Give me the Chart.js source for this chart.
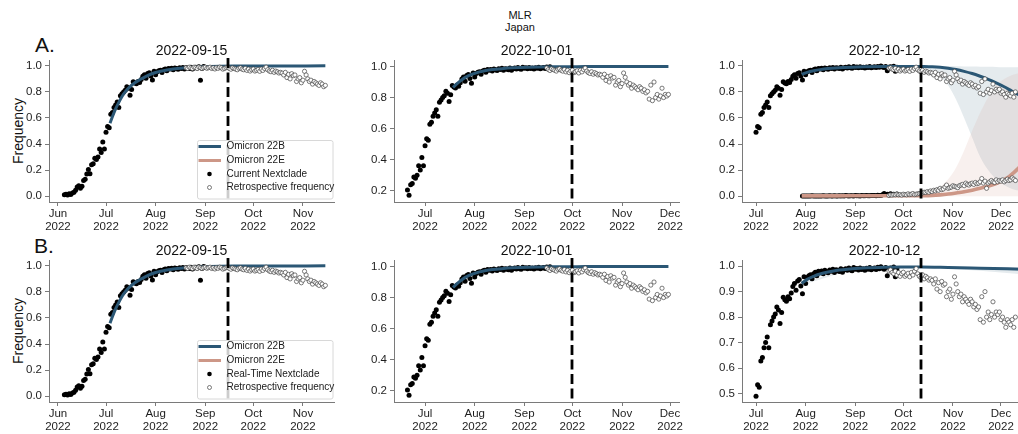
<!DOCTYPE html>
<html>
<head>
<meta charset="utf-8">
<script src="https://cdn.jsdelivr.net/npm/chart.js@4/dist/chart.umd.min.js"></script>
<style>
  html, body { margin: 0; padding: 0; background: #fff; }
  body { width: 1018px; height: 434px; overflow: hidden; position: relative;
         font-family: "Liberation Sans", Arial, sans-serif; color: #111; }
  canvas { position: absolute; }
  .lbl { position: absolute; white-space: nowrap; }
</style>
</head>
<body>
<div class="lbl" style="left:0;width:1040px;top:9px;text-align:center;font-size:11px;line-height:12px">MLR<br>Japan</div>
<div class="lbl" style="left:35px;top:34px;font-size:21px;line-height:21px">A.</div>
<div class="lbl" style="left:34px;top:235px;font-size:21px;line-height:21px">B.</div>
<div class="lbl" style="left:18px;top:131px;font-size:14px;line-height:14px;transform:translate(-50%,-50%) rotate(-90deg)">Frequency</div>
<div class="lbl" style="left:18px;top:331px;font-size:14px;line-height:14px;transform:translate(-50%,-50%) rotate(-90deg)">Frequency</div>
<script>
// Days are counted from 2022-06-01 (day 0).
const monthTicks = [0, 30, 61, 92, 122, 153, 183];
const monthNames = ['Jun', 'Jul', 'Aug', 'Sep', 'Oct', 'Nov', 'Dec'];

// Daily Omicron 22B frequency as reported in real time (Nextclade), days 4..118
const realtime22BStart = 4;
const realtime22B = [
  0.010, 0.015, 0.008, 0.018, 0.012, 0.025, 0.030, 0.045, 0.070, 0.080,
  0.060, 0.075, 0.120, 0.130, 0.170, 0.205, 0.172, 0.240, 0.248, 0.290,
  0.282, 0.300, 0.362, 0.335, 0.415, 0.362, 0.490, 0.535, 0.525, 0.628,
  0.642, 0.680, 0.700, 0.722, 0.680, 0.770, 0.785, 0.800, 0.812, 0.840,
  0.828, 0.775, 0.818, 0.878, 0.868, 0.862, 0.880, 0.872, 0.895, 0.920,
  0.932, 0.905, 0.942, 0.948, 0.922, 0.892, 0.958, 0.932, 0.955, 0.962,
  0.966, 0.950, 0.970, 0.976, 0.962, 0.980, 0.975, 0.981, 0.970, 0.984,
  0.979, 0.974, 0.985, 0.980, 0.988, 0.975, 0.986, 0.984, 0.979, 0.990,
  0.976, 0.986, 0.990, 0.984, 0.993, 0.985, 0.982, 0.995, 0.988, 0.991,
  0.985, 0.993, 0.987, 0.990, 0.984, 0.992, 0.988, 0.995, 0.986, 0.990,
  0.993, 0.987, 0.996, 0.990, 0.998, 0.992, 0.988, 0.995, 0.962, 0.990,
  0.993, 0.985, 0.997, 0.958, 0.990
];
// Values that differed in the 2022-09-15 snapshot: [day, frequency]
const sep15Revisions = [[89, 0.890]];

// Retrospective Omicron 22B frequency, days 80..192
const retro22BStart = 80;
const retro22B = [
  0.985, 0.980, 0.990, 0.984, 0.979, 0.990, 0.986, 0.980, 0.991, 0.985,
  0.980, 0.986, 0.990, 0.981, 0.986, 0.990, 0.980, 0.985, 0.976, 0.986,
  0.981, 0.990, 0.985, 0.975, 0.980, 0.986, 0.990, 0.980, 0.974, 0.985,
  0.980, 0.975, 0.970, 0.981, 0.985, 0.975, 0.970, 0.980, 0.965, 0.975,
  0.960, 0.970, 0.976, 0.960, 0.966, 0.972, 0.958, 0.975, 0.965, 0.980,
  0.990, 0.970, 0.960, 0.955, 0.966, 0.950, 0.960, 0.954, 0.945, 0.950,
  0.944, 0.930, 0.950, 0.910, 0.935, 0.900, 0.940, 0.925, 0.930, 0.880,
  0.900, 0.910, 0.870, 0.890, 0.958, 0.930, 0.900, 0.880, 0.890, 0.860,
  0.880, 0.870, 0.860, 0.850, 0.870, 0.860, 0.840, 0.850, 0.830, 0.840,
  0.790, 0.880, 0.780, 0.900, 0.800, 0.820, 0.790, 0.810, 0.860, 0.800,
  0.820, 0.810, 0.820, 0.790, 0.800, 0.780, 0.760, 0.790, 0.780, 0.770,
  0.790, 0.760, 0.800
];

// Omicron 22E, real time (days 59..118) and retrospective (days 113..192)
const realtime22EStart = 59;
const realtime22E = [
  0.001, 0.002, 0.001, 0.002, 0.001, 0.002, 0.003, 0.001, 0.002, 0.002,
  0.001, 0.002, 0.002, 0.003, 0.001, 0.002, 0.002, 0.003, 0.002, 0.002,
  0.003, 0.002, 0.002, 0.003, 0.002, 0.003, 0.002, 0.004, 0.003, 0.002,
  0.003, 0.003, 0.002, 0.004, 0.003, 0.003, 0.002, 0.004, 0.003, 0.003,
  0.004, 0.003, 0.003, 0.005, 0.004, 0.004, 0.003, 0.006, 0.005, 0.004,
  0.011, 0.020, 0.012, 0.015, 0.010, 0.018, 0.012, 0.015, 0.013, 0.016
];
const retro22EStart = 113;
const retro22E = [
  0.005, 0.010, 0.008, 0.012, 0.010, 0.015, 0.010, 0.012, 0.008, 0.015,
  0.012, 0.010, 0.018, 0.012, 0.015, 0.020, 0.012, 0.015, 0.018, 0.020,
  0.022, 0.025, 0.030, 0.028, 0.035, 0.030, 0.040, 0.035, 0.045, 0.040,
  0.050, 0.045, 0.060, 0.050, 0.055, 0.070, 0.085, 0.060, 0.065, 0.070,
  0.080, 0.075, 0.070, 0.065, 0.080, 0.085, 0.090, 0.080, 0.100, 0.090,
  0.085, 0.095, 0.100, 0.090, 0.105, 0.095, 0.100, 0.110, 0.135, 0.100,
  0.115, 0.060, 0.100, 0.110, 0.120, 0.110, 0.105, 0.125, 0.110, 0.120,
  0.115, 0.125, 0.110, 0.120, 0.130, 0.120, 0.125, 0.140, 0.130, 0.120
];

// Model fits [day, frequency]
const fit0915_22B = [[32.5,0.56],[34,0.61],[36,0.67],[38,0.72],[40,0.765],[42,0.80],[45,0.84],[48,0.87],
  [51,0.893],[55,0.92],[60,0.945],[64,0.958],[68,0.968],[72,0.976],[78,0.984],[85,0.99],[95,0.995],
  [110,0.998],[130,0.999],[167,1.0]];
const fit1001_22B = [[47.5,0.865],[50,0.89],[53,0.915],[56,0.935],[60,0.952],[64,0.965],[68,0.974],
  [72,0.98],[78,0.986],[85,0.991],[95,0.995],[110,0.998],[130,0.999],[182,1.0]];
const fit1012_22B = [[58.5,0.935],[62,0.95],[66,0.962],[70,0.971],[75,0.979],[80,0.984],[90,0.99],
  [100,0.993],[110,0.995],[120,0.996],[130,0.996],[135,0.995],[140,0.993],[145,0.989],[150,0.982],
  [155,0.972],[160,0.958],[165,0.941],[170,0.92],[175,0.897],[180,0.87],[185,0.84],[190,0.805],[196,0.765]];
const fit1012_22E = [[58.5,0.002],[80,0.002],[100,0.003],[120,0.003],[133,0.004],[140,0.006],[145,0.01],
  [150,0.016],[155,0.024],[160,0.033],[165,0.045],[170,0.06],[175,0.077],[180,0.097],[184,0.12],
  [188,0.15],[191,0.18],[193.5,0.21],[196,0.24]];
// Uncertainty bands [day, upper, lower]
const band1012_22B = [[58.5,0.945,0.925],[80,0.988,0.98],[100,0.996,0.99],[120,0.998,0.993],
  [133,0.998,0.99],[140,0.998,0.965],[145,0.998,0.92],[150,0.998,0.85],[155,0.997,0.74],[160,0.996,0.60],
  [165,0.995,0.45],[170,0.994,0.30],[175,0.993,0.20],[180,0.992,0.13],[185,0.99,0.085],[190,0.99,0.055],
  [196,0.99,0.04]];
const band1012_22E = [[58.5,0.005,0],[133,0.01,0],[140,0.035,0],[145,0.07,0],[150,0.13,0],[155,0.22,0],
  [160,0.35,0],[165,0.50,0],[170,0.64,0],[175,0.76,0],[180,0.85,0],[185,0.90,0],[190,0.93,0],[196,0.95,0]];
// Fit using real-time sequences only, 2022-10-12
const fitRT1012_22B = [[58.5,0.932],[62,0.948],[66,0.96],[70,0.969],[75,0.977],[80,0.983],[90,0.99],
  [100,0.994],[110,0.996],[120,0.997],[133,0.997],[150,0.995],[170,0.992],[196,0.988]];
const bandRT1012_22B = [[58.5,0.937,0.927],[100,0.996,0.992],[133,0.999,0.995],[150,0.998,0.99],
  [170,0.996,0.982],[196,0.994,0.968]];

const yTicksFull = [0, 0.2, 0.4, 0.6, 0.8, 1.0];
const yTicksMid = [0.2, 0.4, 0.6, 0.8, 1.0];
const yTicksHigh = [0.5, 0.6, 0.7, 0.8, 0.9, 1.0];

const BLUE = '#2b5775';
const PINK = '#cd9787';
const FONT = '"Liberation Sans", Arial, sans-serif';

// Geometry of each plot area
const PLOT_W = 285, PLOT_H = 142;
const Y_W = 48, T_PAD = 30, X_H = 40, R_PAD = 24;

function daily(values, start, from, to, revisions) {
  const fix = new Map(revisions || []);
  const out = [];
  values.forEach((v, i) => {
    const d = start + i;
    if (d >= from && d <= to) out.push({ x: d, y: fix.has(d) ? fix.get(d) : v });
  });
  return out;
}
const pairs = arr => arr.map(([x, y]) => ({ x, y }));

function dotSet(data) {
  return { data, showLine: false, pointRadius: 2.5, pointBackgroundColor: '#000',
           pointBorderWidth: 0, pointBorderColor: '#000' };
}
function ringSet(data) {
  return { data, showLine: false, pointRadius: 2.1, pointBackgroundColor: '#fff',
           pointBorderWidth: 0.7, pointBorderColor: '#444' };
}
function lineSet(arr, color, width) {
  return { data: pairs(arr), borderColor: color, borderWidth: width || 3, pointRadius: 0,
           cubicInterpolationMode: 'monotone', fill: false };
}
function bandSets(arr, color) {
  return [
    { data: arr.map(r => ({ x: r[0], y: r[1] })), borderWidth: 0, pointRadius: 0,
      cubicInterpolationMode: 'monotone', fill: '+1', backgroundColor: color },
    { data: arr.map(r => ({ x: r[0], y: r[2] })), borderWidth: 0, pointRadius: 0,
      cubicInterpolationMode: 'monotone', fill: false }
  ];
}

function drawLegend(ctx, a, dotLabel) {
  const bx = a.left + 148, by = a.top + 80, bw = 135.5, bh = 58.5;
  ctx.save();
  ctx.fillStyle = 'rgba(255,255,255,0.8)';
  ctx.strokeStyle = '#d8d8d8';
  ctx.lineWidth = 1;
  ctx.beginPath();
  ctx.roundRect(bx + 0.5, by + 0.5, bw, bh, 2);
  ctx.fill();
  ctx.stroke();
  const rows = [a.top + 86.5, a.top + 100.5, a.top + 114, a.top + 127.5];
  const hx0 = a.left + 149.5, hx1 = a.left + 172, mx = a.left + 160.5, tx = a.left + 177.5;
  ctx.lineWidth = 3;
  ctx.strokeStyle = BLUE;
  ctx.beginPath(); ctx.moveTo(hx0, rows[0]); ctx.lineTo(hx1, rows[0]); ctx.stroke();
  ctx.strokeStyle = PINK;
  ctx.beginPath(); ctx.moveTo(hx0, rows[1]); ctx.lineTo(hx1, rows[1]); ctx.stroke();
  ctx.fillStyle = '#000';
  ctx.beginPath(); ctx.arc(mx, rows[2], 2.3, 0, Math.PI * 2); ctx.fill();
  ctx.fillStyle = '#fff'; ctx.strokeStyle = '#444'; ctx.lineWidth = 0.7;
  ctx.beginPath(); ctx.arc(mx, rows[3], 2.0, 0, Math.PI * 2); ctx.fill(); ctx.stroke();
  ctx.fillStyle = '#1a1a1a';
  ctx.font = '10px ' + FONT;
  ctx.textAlign = 'left';
  ctx.textBaseline = 'middle';
  ctx.fillText('Omicron 22B', tx, rows[0]);
  ctx.fillText('Omicron 22E', tx, rows[1]);
  ctx.fillText(dotLabel, tx, rows[2]);
  ctx.fillText('Retrospective frequency', tx, rows[3]);
  ctx.restore();
}

const panelDecor = {
  id: 'panelDecor',
  afterDatasetsDraw(chart, args, opts) {
    const { ctx, chartArea: a, scales: { x } } = chart;
    const px = Math.round(x.getPixelForValue(opts.cutoff));
    ctx.save();
    ctx.strokeStyle = '#000';
    ctx.lineWidth = 2.8;
    ctx.setLineDash([10, 4.5]);
    ctx.beginPath();
    ctx.moveTo(px, a.top - 2);
    ctx.lineTo(px, a.bottom);
    ctx.stroke();
    ctx.restore();
    if (opts.legend) drawLegend(ctx, a, opts.legend);
    ctx.save();
    ctx.fillStyle = '#111';
    ctx.font = '14px ' + FONT;
    ctx.textAlign = 'center';
    ctx.textBaseline = 'middle';
    ctx.fillText(opts.title, (a.left + a.right) / 2, a.top - 9);
    ctx.restore();
  }
};

function makePanel(p) {
  const canvas = document.createElement('canvas');
  const W = Y_W + PLOT_W + R_PAD, H = T_PAD + PLOT_H + X_H;
  canvas.width = W; canvas.height = H;
  canvas.style.left = (p.left - Y_W) + 'px';
  canvas.style.top = (p.top - T_PAD) + 'px';
  canvas.style.width = W + 'px';
  canvas.style.height = H + 'px';
  document.body.appendChild(canvas);

  const ds = [];
  if (p.retroE) ds.push(ringSet(daily(retro22E, retro22EStart, p.retroE[0], p.retroE[1])));
  ds.push(ringSet(daily(retro22B, retro22BStart, p.retro[0], p.retro[1])));
  if (p.fitE) ds.push(lineSet(p.fitE, PINK, 3.6));
  ds.push(lineSet(p.fitB, BLUE, 3));
  if (p.rtE) ds.push(dotSet(daily(realtime22E, realtime22EStart, p.rtE[0], p.rtE[1])));
  ds.push(dotSet(daily(realtime22B, realtime22BStart, p.rt[0], p.rt[1], p.revisions)));
  if (p.bandE) ds.push(...bandSets(p.bandE, 'rgba(205,151,135,0.14)'));
  if (p.bandB) ds.push(...bandSets(p.bandB, 'rgba(43,87,117,0.12)'));

  const axisColor = '#7a7a7a';
  new Chart(canvas, {
    type: 'line',
    data: { datasets: ds },
    plugins: [panelDecor],
    options: {
      responsive: false,
      animation: false,
      devicePixelRatio: 1,
      events: [],
      layout: { padding: { left: 0, top: T_PAD, right: R_PAD, bottom: 0 } },
      plugins: {
        legend: { display: false },
        tooltip: { enabled: false },
        title: { display: false },
        panelDecor: { cutoff: p.cutoff, title: p.title, legend: p.legend }
      },
      scales: {
        x: {
          type: 'linear', min: p.xRange[0], max: p.xRange[1],
          afterBuildTicks: axis => {
            axis.ticks = monthTicks.filter(v => v >= p.xRange[0] && v <= p.xRange[1]).map(v => ({ value: v }));
          },
          afterFit: s => { s.height = X_H; s.paddingLeft = 0; s.paddingRight = 0; },
          ticks: {
            autoSkip: false, maxRotation: 0, minRotation: 0, padding: 2, color: '#1e1e1e',
            font: { family: FONT, size: 11.5, lineHeight: 1.1 },
            callback: v => [monthNames[monthTicks.indexOf(v)], '2022']
          },
          grid: { display: true, drawOnChartArea: false, drawTicks: true, tickLength: 4, color: axisColor },
          border: { display: true, color: axisColor, width: 1 }
        },
        y: {
          type: 'linear', min: p.yRange[0], max: p.yRange[1],
          afterBuildTicks: axis => { axis.ticks = p.yTicks.map(v => ({ value: v })); },
          afterFit: s => { s.width = Y_W; s.paddingTop = 0; s.paddingBottom = 0; },
          ticks: {
            padding: 3, color: '#1e1e1e',
            font: { family: FONT, size: 11.5 },
            callback: v => v.toFixed(1)
          },
          grid: { display: true, drawOnChartArea: false, drawTicks: true, tickLength: 4, color: axisColor },
          border: { display: true, color: axisColor, width: 1 }
        }
      }
    }
  });
}

const ROW_A = 60, ROW_B = 260;
const COL = [49, 394, 742];
const panels = [
  { left: COL[0], top: ROW_A, title: '2022-09-15', cutoff: 106, xRange: [-5.6, 172.4],
    yRange: [-0.045, 1.045], yTicks: yTicksFull, rt: [4, 91], retro: [80, 167], revisions: sep15Revisions,
    fitB: fit0915_22B, legend: 'Current Nextclade' },
  { left: COL[1], top: ROW_A, title: '2022-10-01', cutoff: 122, xRange: [10.6, 188.6],
    yRange: [0.1285, 1.0415], yTicks: yTicksMid, rt: [19, 108], retro: [106, 182], fitB: fit1001_22B },
  { left: COL[2], top: ROW_A, title: '2022-10-12', cutoff: 133, xRange: [21.25, 199.25],
    yRange: [-0.045, 1.045], yTicks: yTicksFull, rt: [30, 118], retro: [113, 192],
    rtE: [59, 118], retroE: [113, 192], fitB: fit1012_22B, fitE: fit1012_22E,
    bandB: band1012_22B, bandE: band1012_22E },
  { left: COL[0], top: ROW_B, title: '2022-09-15', cutoff: 106, xRange: [-5.6, 172.4],
    yRange: [-0.045, 1.045], yTicks: yTicksFull, rt: [4, 91], retro: [80, 167], revisions: sep15Revisions,
    fitB: fit0915_22B, legend: 'Real-Time Nextclade' },
  { left: COL[1], top: ROW_B, title: '2022-10-01', cutoff: 122, xRange: [10.6, 188.6],
    yRange: [0.1285, 1.0415], yTicks: yTicksMid, rt: [19, 108], retro: [106, 182], fitB: fit1001_22B },
  { left: COL[2], top: ROW_B, title: '2022-10-12', cutoff: 133, xRange: [21.25, 199.25],
    yRange: [0.467, 1.024], yTicks: yTicksHigh, rt: [30, 118], retro: [113, 192],
    fitB: fitRT1012_22B, bandB: bandRT1012_22B }
];
panels.forEach(makePanel);
</script>
</body>
</html>
